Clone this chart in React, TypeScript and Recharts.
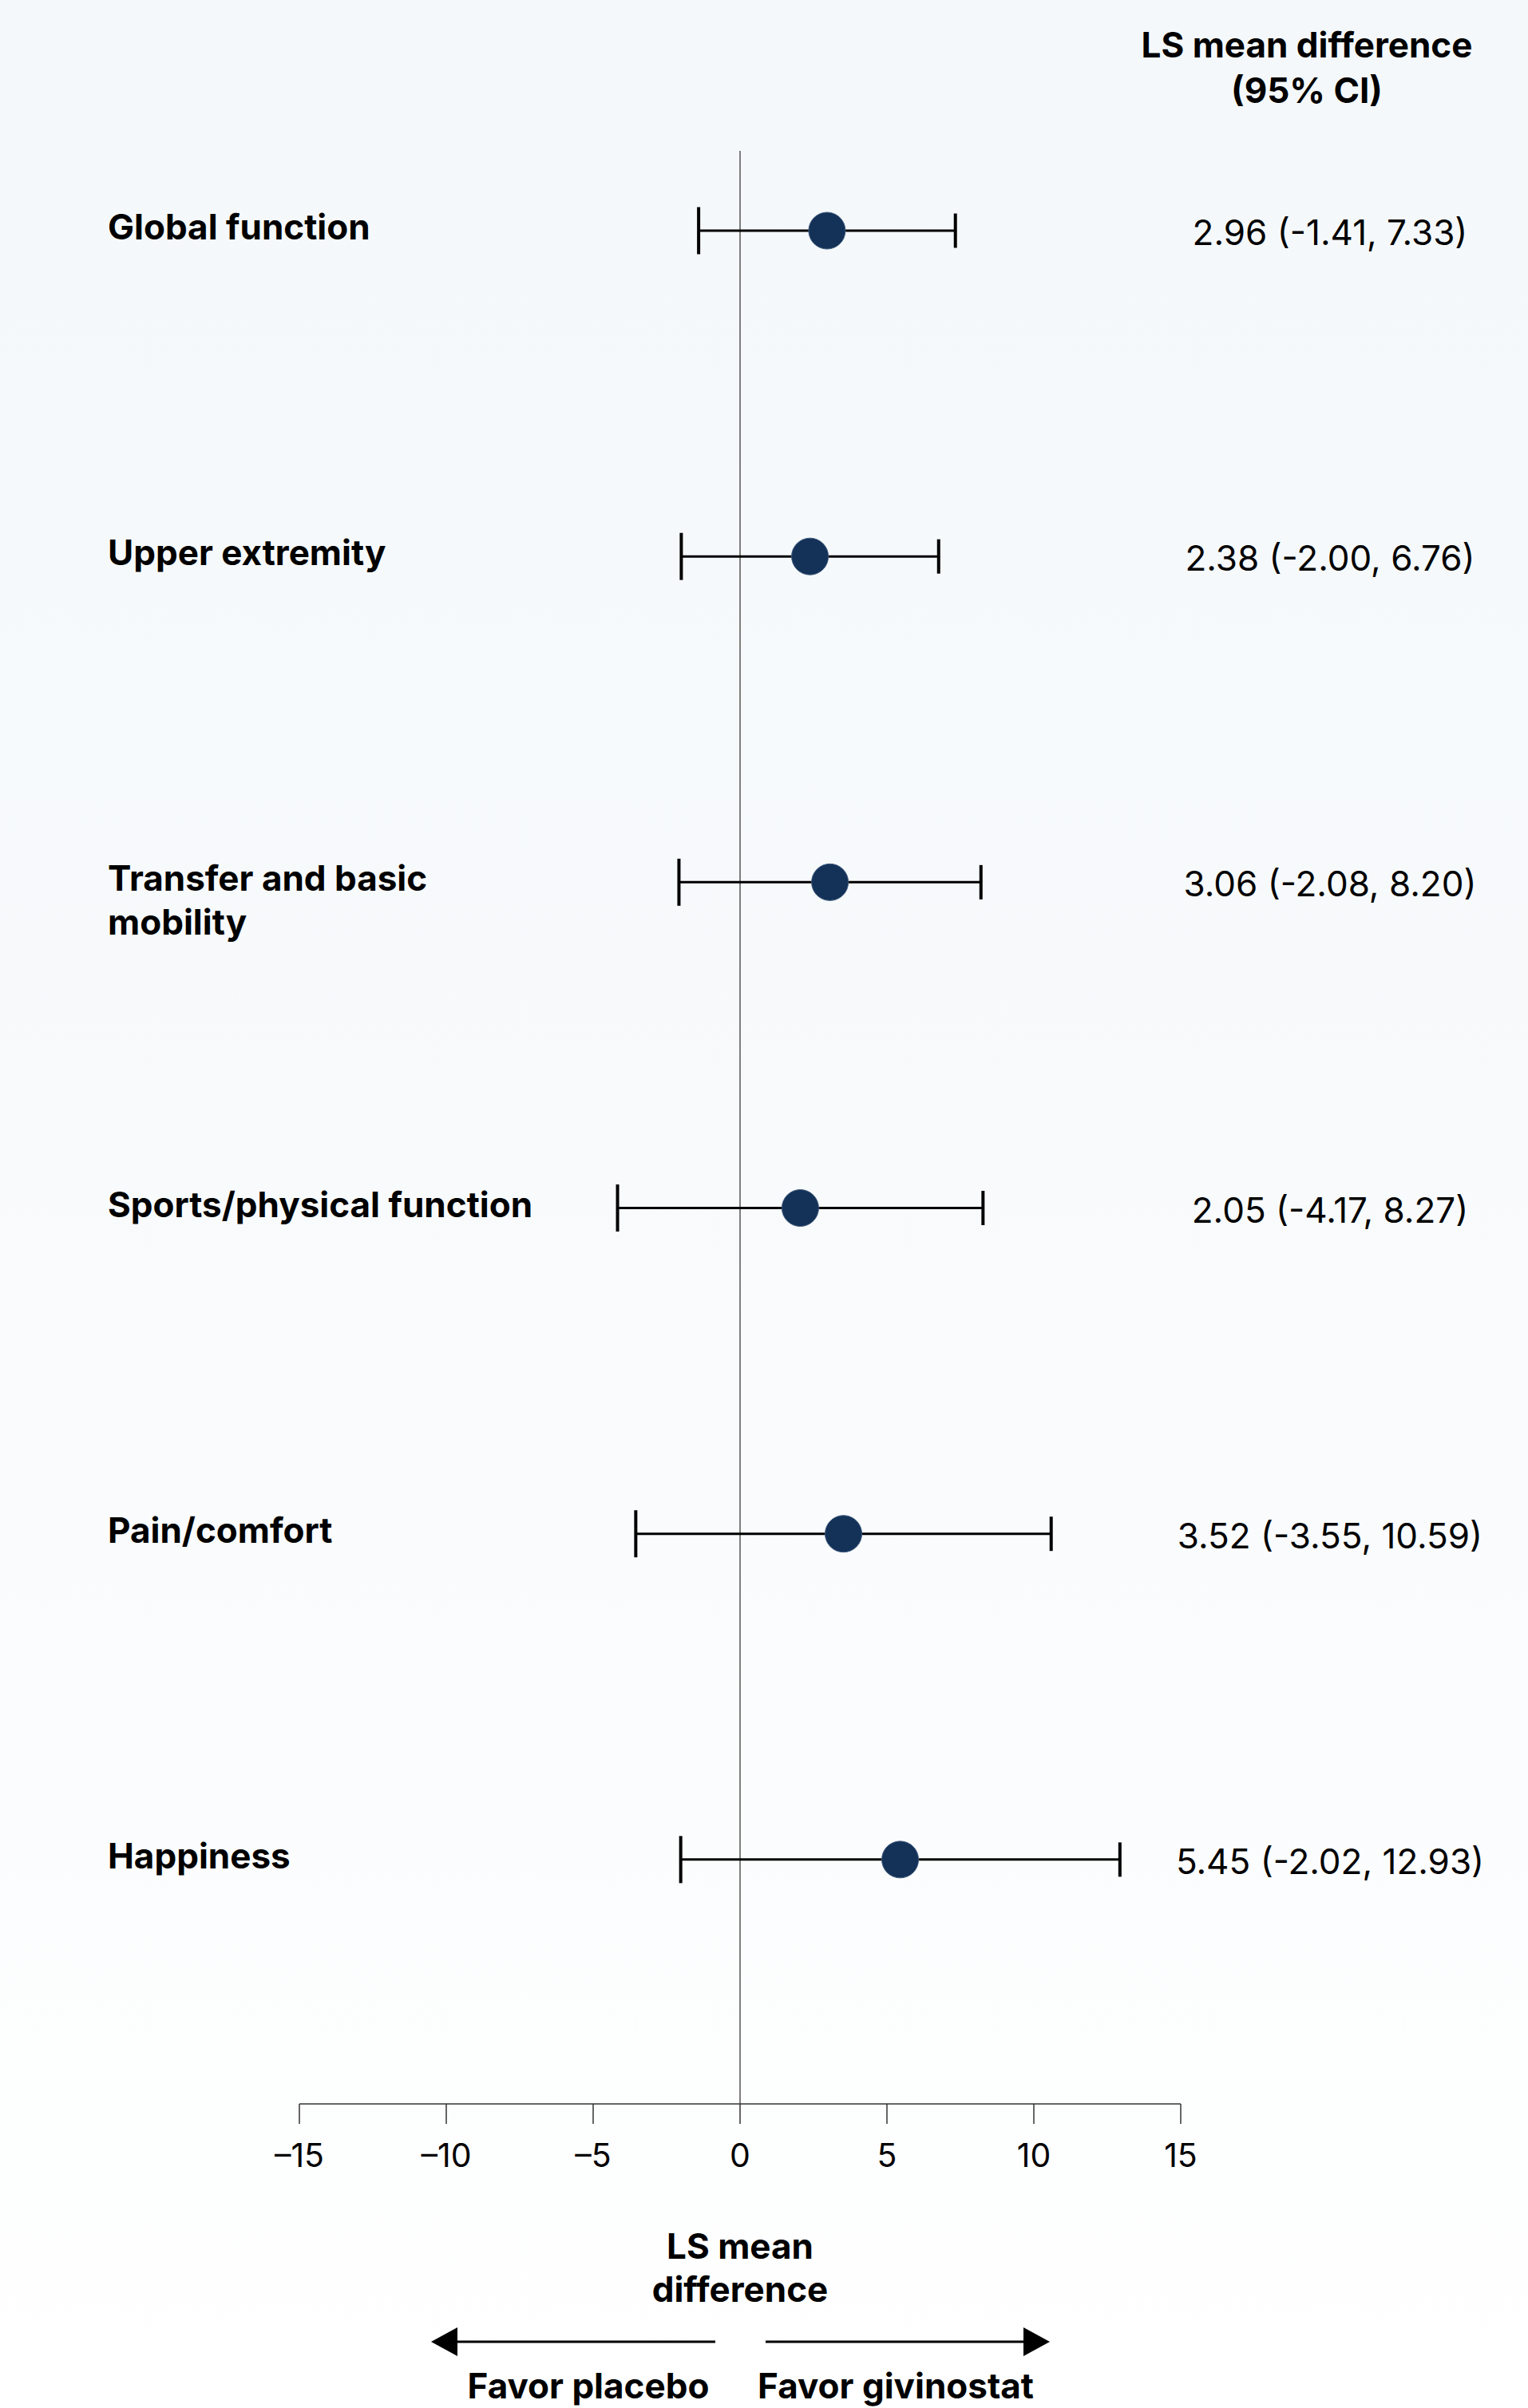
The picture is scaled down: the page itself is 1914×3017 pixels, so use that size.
import React from "react";
import { ScatterChart, Scatter, XAxis, YAxis, ErrorBar, ReferenceLine } from "recharts";

const categories = [
  "Global function",
  "Upper extremity",
  "Transfer and basic\nmobility",
  "Sports/physical function",
  "Pain/comfort",
  "Happiness",
];
const means = [2.96, 2.38, 3.06, 2.05, 3.52, 5.45];
const lowers = [-1.41, -2.0, -2.08, -4.17, -3.55, -2.02];
const uppers = [7.33, 6.76, 8.2, 8.27, 10.59, 12.93];
const xTicks = [-15, -10, -5, 0, 5, 10, 15];
const headerLines = ["LS mean difference", "(95% CI)"];
const axisTitleLines = ["LS mean", "difference"];
const favorLeft = "Favor placebo";
const favorRight = "Favor givinostat";

const FONT = "Inter, 'DejaVu Sans', sans-serif";
const W = 1914;
const H = 3017;

const rows = categories.map((label, i) => ({
  row: i,
  x: means[i],
  err: [means[i] - lowers[i], uppers[i] - means[i]],
  label,
  ci: `${means[i].toFixed(2)} (${lowers[i].toFixed(2)}, ${uppers[i].toFixed(2)})`,
}));
const lowerPts = rows.map((r, i) => ({ row: r.row, x: lowers[i] }));
const upperPts = rows.map((r, i) => ({ row: r.row, x: uppers[i] }));

const fmtTick = (v: number) => (v < 0 ? "\u2013" + Math.abs(v) : String(v));

const RowTick = (props: any) => {
  const { y, payload } = props;
  const r = rows[payload.value];
  if (!r) return null;
  const lines = r.label.split("\n");
  return (
    <g>
      <text x={135} y={y + 11} fontFamily={FONT} fontWeight={700} fontSize={44} fill="#000">
        {lines.map((l: string, k: number) => (
          <tspan key={k} x={135} dy={k === 0 ? 0 : 55}>
            {l}
          </tspan>
        ))}
      </text>
      <text x={1666} y={y + 18} textAnchor="middle" fontFamily={FONT} fontSize={44} fill="#000">
        {r.ci}
      </text>
    </g>
  );
};

const CapShape = (h: number) => (props: any) => {
  const { cx, cy } = props;
  return <line x1={cx} x2={cx} y1={cy - h} y2={cy + h} stroke="#000" strokeWidth={4} />;
};

const NoShape = () => <g />;

const Dot = (props: any) => {
  const { cx, cy } = props;
  return <circle cx={cx} cy={cy} r={23} fill="#143157" stroke="#3d5a7e" strokeWidth={1} />;
};

export default function App() {
  return (
    <div
      style={{
        position: "absolute",
        left: 0,
        top: 0,
        width: W,
        height: H,
        background: "linear-gradient(to bottom, #F4F8FA 0%, #F9FBFC 60%, #FFFFFF 100%)",
      }}
    >
      <ScatterChart width={W} height={H} margin={{ top: 189, right: 435, bottom: 321, left: 135 }}>
        <XAxis
          type="number"
          dataKey="x"
          domain={[-15, 15]}
          ticks={xTicks}
          tickFormatter={fmtTick}
          tickSize={25}
          tickMargin={25}
          height={60}
          stroke="#333"
          strokeWidth={1.5}
          tick={{ fontSize: 41, fill: "#000", fontFamily: FONT }}
          allowDataOverflow
        />
        <YAxis
          type="number"
          dataKey="row"
          domain={[-0.245, 5.75]}
          reversed
          ticks={[0, 1, 2, 3, 4, 5]}
          width={240}
          axisLine={false}
          tickLine={false}
          tick={<RowTick />}
          allowDataOverflow
        />
        <ReferenceLine x={0} stroke="#555" strokeWidth={1.5} />
        <Scatter data={rows} shape={<NoShape />} isAnimationActive={false}>
          <ErrorBar dataKey="err" direction="x" width={0} stroke="#000" strokeWidth={3} isAnimationActive={false} />
        </Scatter>
        <Scatter data={lowerPts} shape={CapShape(29.5)} isAnimationActive={false} />
        <Scatter data={upperPts} shape={CapShape(21.5)} isAnimationActive={false} />
        <Scatter data={rows} shape={<Dot />} isAnimationActive={false} />
      </ScatterChart>
      <svg
        width={W}
        height={H}
        style={{ position: "absolute", left: 0, top: 0, pointerEvents: "none" }}
      >
        <g fontFamily={FONT} fontWeight={700} fontSize={44} fill="#000" textAnchor="middle">
          <text x={1637} y={72}>{headerLines[0]}</text>
          <text x={1637} y={129}>{headerLines[1]}</text>
          <text x={927} y={2830}>{axisTitleLines[0]}</text>
          <text x={927} y={2884}>{axisTitleLines[1]}</text>
          <text x={737} y={3005}>{favorLeft}</text>
          <text x={1122} y={3005}>{favorRight}</text>
        </g>
        <line x1={896} x2={570} y1={2934} y2={2934} stroke="#000" strokeWidth={3} />
        <polygon points="540,2934 573,2916 573,2952" fill="#000" />
        <line x1={959} x2={1285} y1={2934} y2={2934} stroke="#000" strokeWidth={3} />
        <polygon points="1315,2934 1282,2916 1282,2952" fill="#000" />
      </svg>
    </div>
  );
}
